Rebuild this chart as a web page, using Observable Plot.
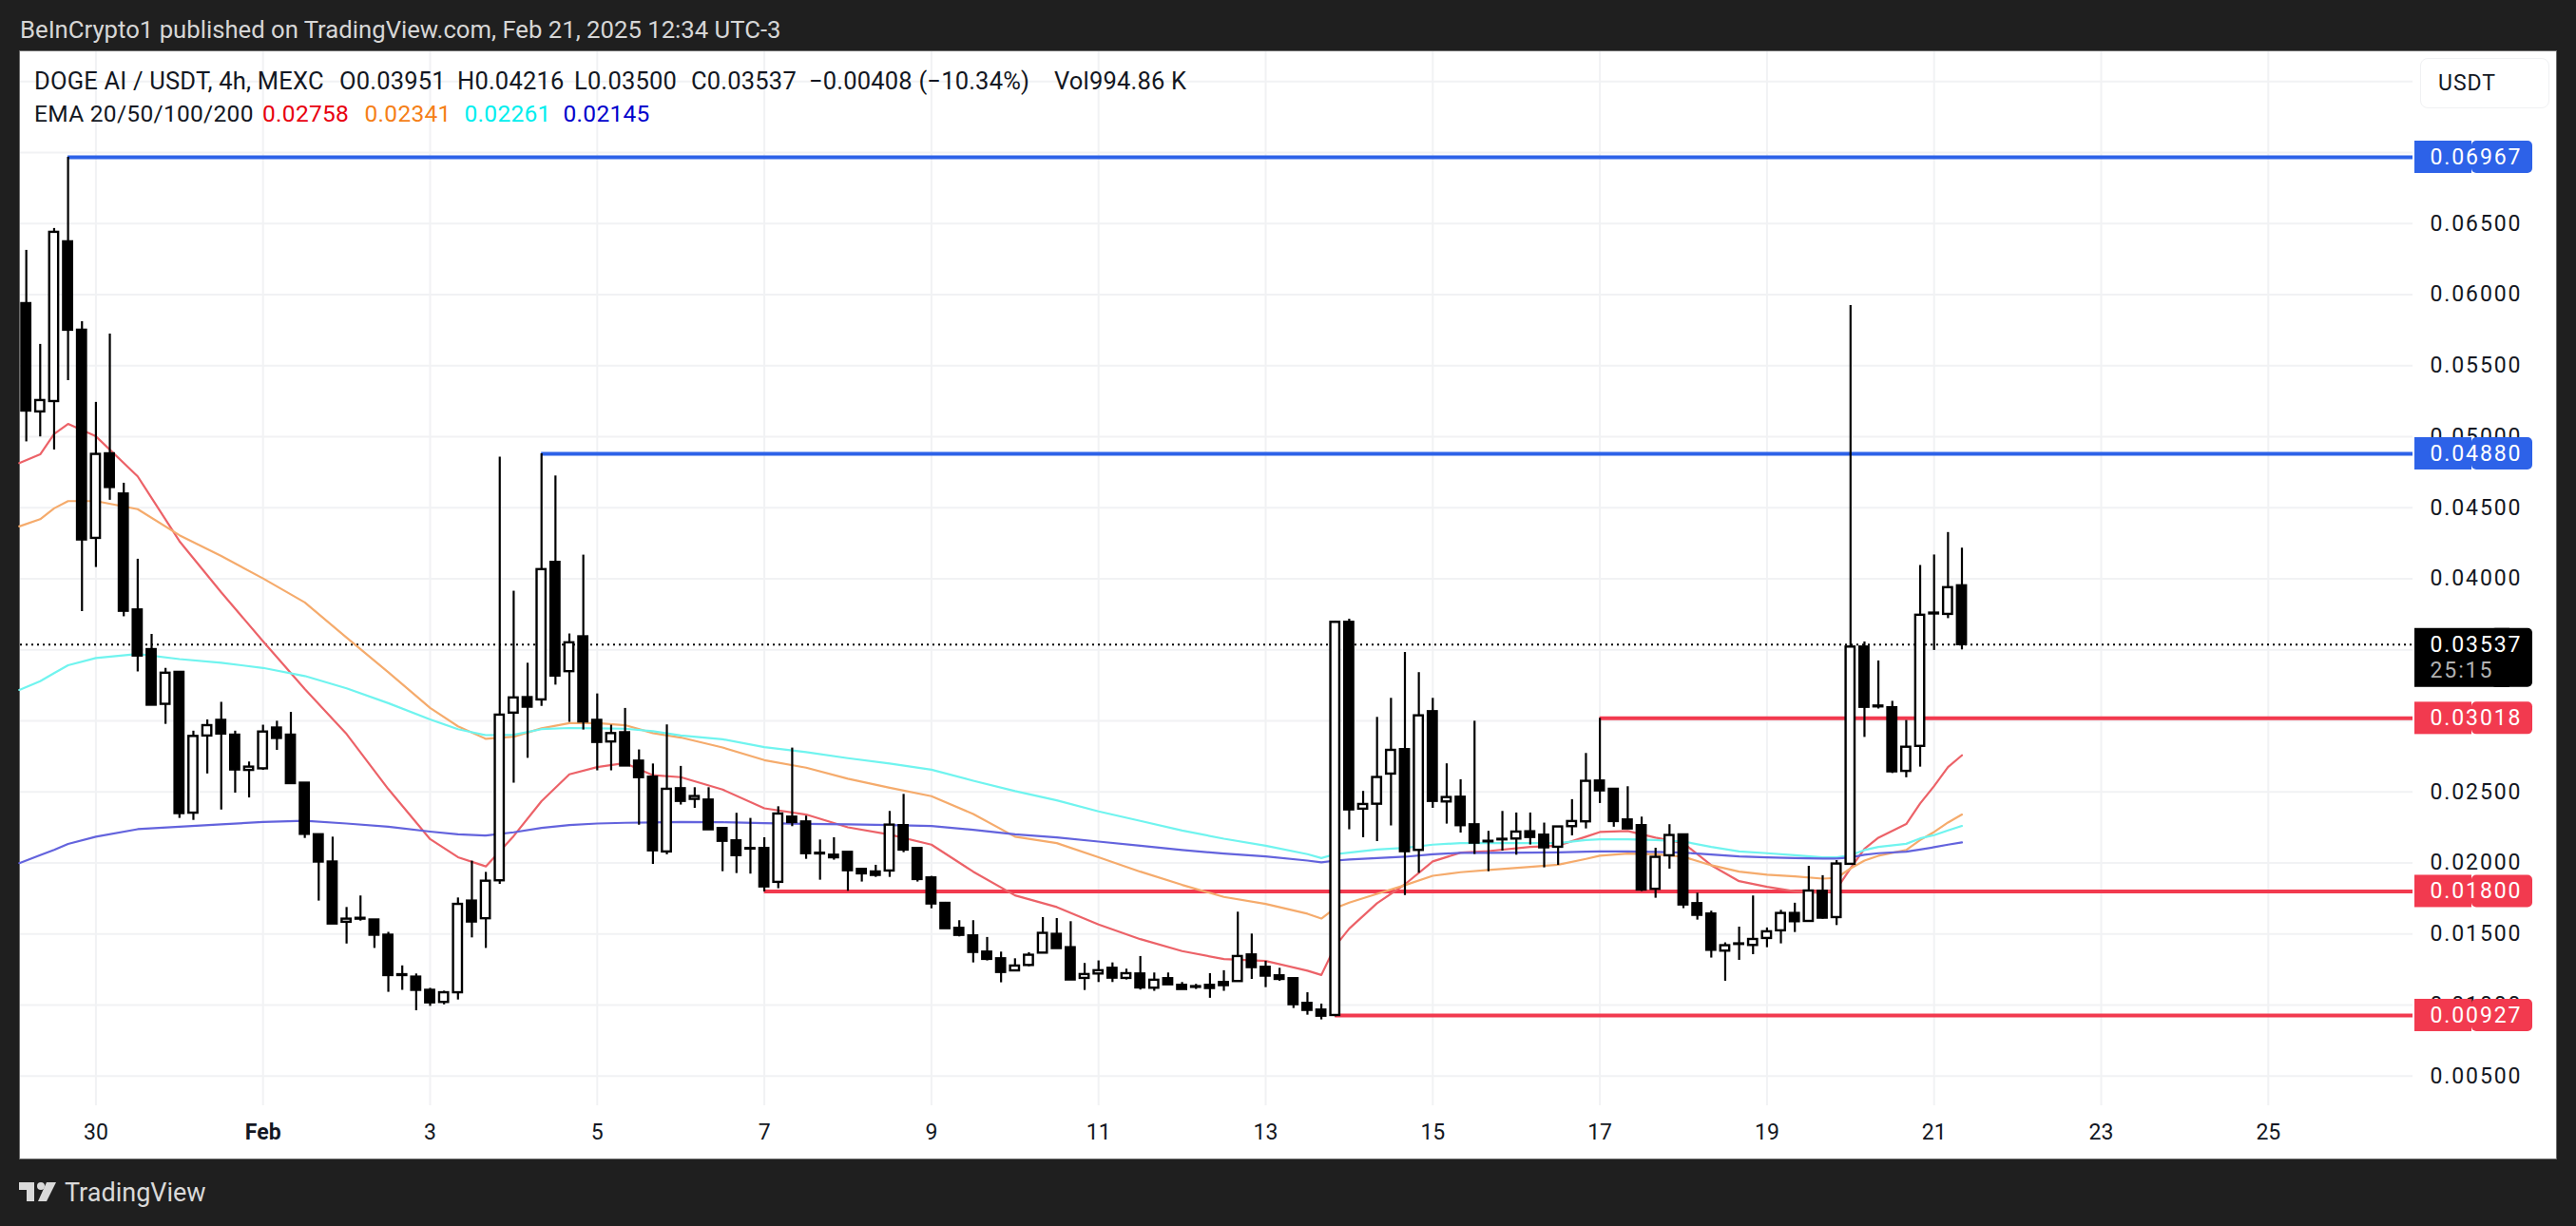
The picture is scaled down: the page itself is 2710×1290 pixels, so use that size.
<!DOCTYPE html>
<html>
<head>
<meta charset="utf-8">
<title>DOGE AI / USDT</title>
<script src="https://cdn.jsdelivr.net/npm/d3@7"></script>
<script src="https://cdn.jsdelivr.net/npm/@observablehq/plot@0.6"></script>
<style>
  html, body { margin: 0; padding: 0; width: 2710px; height: 1290px; overflow: hidden; background: #1f1f1f; font-family: Roboto, sans-serif; }
  #panel { position: absolute; left: 20px; top: 53px; width: 2668px; height: 1165px; background: #fff; border: 1px solid #6b6b6b; }
  #chart { position: absolute; left: 0; top: 0; }
  #chart svg { display: block; background: transparent; overflow: visible; }
  .price text { letter-spacing: 1.9px; }
  .t { position: absolute; white-space: pre; line-height: 1; }
  .leg { font-size: 25.5px; color: #131722; letter-spacing: .2px; }
  .leg2 { font-size: 24.5px; letter-spacing: .3px; }
</style>
</head>
<body>
<div id="panel"></div>
<div id="chart"></div>
<div class="t" style="left:21px;top:19px;font-size:25.7px;color:#d6d6d6;">BeInCrypto1 published on TradingView.com, Feb 21, 2025 12:34 UTC-3</div>
<div id="legend"></div>
<div class="t" style="left:2565px;top:76px;font-size:23px;color:#131722;letter-spacing:1px;">USDT</div>
<div style="position:absolute;left:2546px;top:61px;width:134px;height:51px;border:1px solid #f0f1f3;border-radius:8px;"></div>
<svg style="position:absolute;left:20px;top:1244px" width="40" height="21" viewBox="0 0 40 21">
  <path d="M0 0H16V20H8V8H0Z" fill="#d9d9d9"/><circle cx="23" cy="4" r="4" fill="#d9d9d9"/>
  <path d="M29 0H39L29 20H20Z" fill="#d9d9d9"/>
</svg>
<div class="t" style="left:68px;top:1242px;font-size:27px;color:#d9d9d9;">TradingView</div>
<script>
// ---- Candles, 4h bars; the first bar is five bars before 30 Jan 00:00 ----
const firstBar = Date.UTC(2025, 0, 29, 4);
const barMs = 4 * 3600 * 1000;
const opens = [.05937,.05175,.05248,.06372,.05750,.04285,.04880,.04597,.03781,.03502,.03117,.03342,.02351,.02894,.03004,.02900,.02652,.02663,.02950,.02900,.02562,.02199,.02007,.01583,.01611,.01599,.01492,.01214,.01197,.01104,.01019,.01087,.01732,.01608,.01875,.03055,.03164,.03148,.04116,.03347,.03592,.03004,.02852,.02917,.02717,.02604,
  .02078,.02523,.02448,.02443,.02243,.02156,.02102,.02102,.01864,.02323,.02289,.02069,.02055,.02075,.01955,.01937,.01944,.02263,.02102,.01895,.01716,.01540,.01487,.01373,.01326,.01241,.01279,.01366,.01498,.01404,.01188,.01219,.01259,.01188,.01219,.01119,.01186,.01139,.01130,.01139,.01159,.01166,.01353,.01266,.01206,.01186,.01012,.00965,
  .00927,.03694,.02379,.02414,.02626,.02798,.02089,.03065,.02430,.02463,.02269,.02153,.02167,.02169,.02220,.02196,.02111,.02256,.02290,.02577,.02519,.02303,.02263,.01815,.02051,.02198,.01714,.01641,.01380,.01431,.01420,.01469,.01523,.01645,.01589,.01801,.01616,.01991,.03520,.03105,.03093,.02645,.02821,.03759,.03750,.03951];
const highs = [.06312,.05650,.06466,.06967,.05810,.05242,.05723,.04673,.04138,.03609,.03370,.03342,.02928,.03007,.03131,.02928,.02711,.02970,.02998,.03060,.02562,.02199,.02182,.01687,.01768,.01599,.01512,.01276,.01219,.01118,.01098,.01754,.02013,.01934,.04856,.03913,.03406,.04880,.04724,.03612,.04167,.03190,.02970,.03088,.02796,.02697,
  .02972,.02680,.02530,.02530,.02243,.02350,.02314,.02178,.02396,.02809,.02330,.02162,.02178,.02075,.01955,.01984,.02363,.02483,.02102,.01906,.01723,.01594,.01594,.01476,.01373,.01326,.01369,.01616,.01609,.01587,.01293,.01311,.01297,.01253,.01342,.01226,.01226,.01159,.01146,.01221,.01242,.01654,.01500,.01308,.01259,.01186,.01087,.01007,
  .03701,.03716,.02504,.03025,.03159,.03482,.03340,.03159,.02698,.02586,.02998,.02223,.02363,.02352,.02352,.02281,.02254,.02446,.02771,.03018,.02524,.02537,.02323,.02104,.02270,.02203,.01788,.01661,.01438,.01549,.01768,.01543,.01667,.01717,.01977,.01911,.02017,.05924,.03556,.03422,.03138,.03003,.04094,.04168,.04326,.04216];
const lows = [.04964,.04999,.04907,.05395,.03770,.04080,.04553,.03733,.03345,.03111,.02976,.02314,.02300,.02627,.02373,.02492,.02458,.02652,.02793,.02553,.02173,.01732,.01571,.01430,.01591,.01399,.01090,.01104,.00960,.00991,.01002,.01036,.01473,.01399,.01850,.02562,.02737,.03102,.03252,.02990,.02936,.02649,.02649,.02683,.02266,.01990,
  .02058,.02408,.02385,.02234,.01939,.01926,.01922,.01797,.01819,.02256,.02026,.01879,.02020,.01801,.01866,.01899,.01899,.02073,.01866,.01678,.01538,.01480,.01297,.01311,.01157,.01237,.01270,.01366,.01398,.01177,.01103,.01159,.01159,.01177,.01106,.01097,.01141,.01110,.01110,.01048,.01097,.01166,.01181,.01123,.01168,.00976,.00929,.00896,
  .00918,.02234,.02178,.02151,.02261,.01772,.01928,.02385,.02274,.02211,.02060,.01939,.02084,.02055,.02127,.01966,.01984,.02191,.02240,.02419,.02252,.02240,.01799,.01752,.01957,.01679,.01598,.01331,.01168,.01315,.01355,.01404,.01431,.01511,.01589,.01605,.01560,.01985,.02884,.03084,.02630,.02600,.02675,.03496,.03720,.03500];
const closes = [.05181,.05255,.06439,.05750,.04274,.04876,.04643,.03772,.03457,.03111,.03336,.02348,.02891,.02967,.02908,.02655,.02675,.02922,.02877,.02559,.02202,.02007,.01571,.01605,.01605,.01492,.01208,.01208,.01104,.01016,.01087,.01709,.01585,.01872,.03041,.03162,.03097,.04065,.03316,.03550,.02993,.02849,.02911,.02683,.02601,.02086,
  .02519,.02434,.02468,.02234,.02153,.02052,.02098,.01832,.02345,.02285,.02066,.02064,.02037,.01946,.01924,.01913,.02267,.02091,.01884,.01712,.01538,.01491,.01371,.01322,.01230,.01275,.01351,.01505,.01398,.01177,.01215,.01242,.01190,.01221,.01121,.01175,.01143,.01110,.01125,.01117,.01137,.01342,.01264,.01204,.01181,.01003,.00963,.00922,
  .03694,.02374,.02412,.02602,.02793,.02080,.03036,.02434,.02461,.02263,.02140,.02149,.02163,.02218,.02180,.02107,.02254,.02292,.02575,.02508,.02292,.02240,.01810,.02040,.02194,.01705,.01632,.01386,.01418,.01427,.01462,.01516,.01645,.01587,.01803,.01612,.01993,.03520,.03096,.03099,.02642,.02815,.03744,.03753,.03938,.03537];

// ---- EMA curves, read at these bars (bar number counted from 30 Jan 00:00) ----
const emaBars = [-5.5,-4,-3,-2,0,3,6,9,12,15,18,21,24,26,28,30,32,34,36,38,40,
  42,45,48,51,54,57,60,63,66,69,72,75,78,81,84,87,88,
  89,90,92,94,96,98,100,103,105,107,108,110,112,114,116,118,120,122,124,125,126,127,128,130,131,132,133,134];
const ema20 = [.04814,.04876,.05019,.05090,.05003,.04721,.04265,.03905,.03561,.03224,.02908,.02520,.02168,.02041,.01976,.02190,.02435,.02624,.02675,.02703,.02618,
  .02604,.02517,.02385,.02341,.02251,.02200,.02129,.01939,.01772,.01690,.01567,.01464,.01380,.01324,.01311,.01242,.01212,
  .01416,.01538,.01717,.01850,.02011,.02073,.02084,.02113,.02122,.02185,.02218,.02225,.02178,.02140,.01984,.01872,.01832,.01801,.01788,.01817,.01962,.02100,.02178,.02274,.02419,.02541,.02675,.02758];
const ema50 = [.04369,.04420,.04496,.04547,.04547,.04490,.04307,.04161,.04003,.03834,.03587,.03342,.03091,.02962,.02874,.02889,.02948,.02984,.02984,.02970,.02914,
  .02883,.02813,.02724,.02671,.02593,.02530,.02470,.02345,.02185,.02140,.02040,.01939,.01846,.01761,.01712,.01643,.01609,
  .01683,.01721,.01783,.01844,.01910,.01935,.01951,.01973,.01988,.02029,.02051,.02066,.02062,.02044,.01984,.01939,.01917,.01906,.01890,.01895,.01962,.02017,.02051,.02091,.02162,.02218,.02285,.02341];
const ema100 = [.03218,.03280,.03336,.03392,.03443,.03471,.03435,.03409,.03373,.03316,.03229,.03125,.03010,.02942,.02900,.02903,.02942,.02950,.02948,.02945,.02928,
  .02898,.02871,.02816,.02780,.02738,.02700,.02657,.02579,.02506,.02441,.02363,.02296,.02229,.02171,.02122,.02062,.02035,
  .02062,.02073,.02095,.02107,.02129,.02140,.02140,.02140,.02140,.02162,.02167,.02167,.02162,.02151,.02113,.02082,.02069,.02055,.02040,.02040,.02055,.02091,.02113,.02135,.02173,.02196,.02229,.02261];
const ema200 = [.01999,.02055,.02092,.02134,.02185,.02238,.02255,.02272,.02289,.02297,.02278,.02255,.02221,.02202,.02193,.02216,.02247,.02267,.02278,.02283,.02286,
  .02289,.02287,.02280,.02276,.02272,.02267,.02260,.02234,.02202,.02180,.02151,.02122,.02091,.02066,.02046,.02017,.02004,
  .02017,.02024,.02035,.02044,.02062,.02071,.02071,.02073,.02075,.02080,.02082,.02082,.02078,.02073,.02060,.02046,.02040,.02035,.02031,.02031,.02040,.02058,.02069,.02080,.02095,.02111,.02129,.02145];
const emaColors = ["#ec6268", "#f5ab6c", "#70f4ef", "#6363dd"];

// ---- Horizontal levels, drawn from the bar where they start ----
const levelValues = [.06967, .04880, .03018, .01800, .00927];
const levelStartBars = [-2, 32, 108, 48, 89];
const levelColors = ["#2d62e8", "#2d62e8", "#f23a4f", "#f23a4f", "#f23a4f"];
const lastClose = .03537;
const countdown = "25:15";

// ---- Axis ----
const priceTicks = [.005,.01,.015,.02,.025,.03,.035,.04,.045,.05,.055,.06,.065];
const priceGrid = [...priceTicks, .07, .075];
const dayTicks = ["2025-01-30","2025-02-03","2025-02-05","2025-02-07","2025-02-09","2025-02-11","2025-02-13","2025-02-15","2025-02-17","2025-02-19","2025-02-21","2025-02-23","2025-02-25"].map(d => new Date(d));
const monthTicks = ["2025-02-01"].map(d => new Date(d));

// ---- Legend text ----
const legendRow1 = [["DOGE AI / USDT, 4h, MEXC",36],["O0.03951",357],["H0.04216",481],["L0.03500",604],["C0.03537",727],["−0.00408 (−10.34%)",851],["Vol994.86 K",1109]];
const legendRow2 = [["EMA 20/50/100/200",36,"#131722"],["0.02758",276,"#e8000f"],["0.02341",383.5,"#f57f17"],["0.02261",488.5,"#00eeee"],["0.02145",592.5,"#0000cc"]];

const legend = document.getElementById("legend");
for (const [s, x] of legendRow1) legend.insertAdjacentHTML("beforeend", `<div class="t leg" style="left:${x}px;top:73px">${s}</div>`);
for (const [s, x, c] of legendRow2) legend.insertAdjacentHTML("beforeend", `<div class="t leg2" style="left:${x}px;top:108px;color:${c}">${s}</div>`);

// ---- Build tables ----
const barTime = k => new Date(firstBar + (k + 5) * barMs);
const candles = opens.map((o, i) => ({t: new Date(firstBar + i * barMs), o, h: highs[i], l: lows[i], c: closes[i]}));
const up = candles.filter(d => d.c >= d.o);
const down = candles.filter(d => d.c < d.o);
const emaTable = (vals) => emaBars.map((k, i) => ({t: barTime(k), v: vals[i]}));

// scale geometry
const W = 2710, H = 1290, L = 21, R = 2538, T = 54, B = 1163;
const pxPerDay = 87.9, pxPerUnit = 14950;
const x0 = Date.UTC(2025, 0, 30) - (100.4 - L) / pxPerDay * 864e5;
const x1 = x0 + (R - L) / pxPerDay * 864e5;
const yTop = .065 + (234.8 - T) / pxPerUnit;
const yBot = .065 - (B - 234.8) / pxPerUnit;
const dx = px => new Date(x0 + (px - L) / pxPerDay * 864e5);  // time at a pixel column beyond the frame
const halfBody = 4.7 / pxPerDay * 864e5;
const dy = px => px / pxPerUnit;

const tags = levelValues.map((v, i) => ({v, color: levelColors[i]}));
const tagL = dx(2540), tagM = dx(2600), tagR = dx(2664);

const plot = Plot.plot({
  width: W, height: H,
  marginLeft: L, marginRight: W - R, marginTop: T, marginBottom: H - B,
  style: {background: "transparent", fontFamily: "Roboto, sans-serif", overflow: "visible"},
  x: {type: "utc", domain: [new Date(x0), new Date(x1)], label: null},
  y: {type: "linear", domain: [yBot, yTop], label: null},
  marks: [
    Plot.ruleY(priceGrid, {stroke: "#f1f2f4", strokeWidth: 2}),
    Plot.ruleX([...dayTicks, ...monthTicks], {stroke: "#f1f2f4", strokeWidth: 2}),
    Plot.ruleY([lastClose], {stroke: "#000", strokeWidth: 2, strokeDasharray: "2 4"}),
    Plot.ruleY(levelValues.map((v, i) => i), {
      y: i => levelValues[i], x1: i => barTime(levelStartBars[i]), x2: () => new Date(x1),
      stroke: i => levelColors[i], strokeWidth: 4}),
    Plot.line(emaTable(ema20), {x: "t", y: "v", stroke: emaColors[0], strokeWidth: 2.2}),
    Plot.line(emaTable(ema50), {x: "t", y: "v", stroke: emaColors[1], strokeWidth: 2.2}),
    Plot.line(emaTable(ema100), {x: "t", y: "v", stroke: emaColors[2], strokeWidth: 2.2}),
    Plot.line(emaTable(ema200), {x: "t", y: "v", stroke: emaColors[3], strokeWidth: 2.2}),
    Plot.ruleX(candles, {x: "t", y1: "l", y2: "h", stroke: "#000", strokeWidth: 2.2}),
    Plot.rect(down, {x1: d => new Date(+d.t - halfBody), x2: d => new Date(+d.t + halfBody), y1: "o", y2: "c", fill: "#000", stroke: "#000", strokeWidth: 2.4}),
    Plot.rect(up, {x1: d => new Date(+d.t - halfBody), x2: d => new Date(+d.t + halfBody), y1: "o", y2: "c", fill: "#fff", stroke: "#000", strokeWidth: 2.4}),
    Plot.axisX(dayTicks, {anchor: "bottom", tickSize: 0, tickPadding: 19, fontSize: 23, fill: "#131722", tickFormat: d3.utcFormat("%-d"), label: null}),
    Plot.axisX(monthTicks, {anchor: "bottom", tickSize: 0, tickPadding: 19, fontSize: 23, fontWeight: 700, fill: "#131722", tickFormat: d3.utcFormat("%b"), label: null}),
    Plot.axisY(priceTicks, {anchor: "right", tickSize: 0, tickPadding: 18, fontSize: 23, fill: "#131722", tickFormat: d => d.toFixed(5), label: null, className: "price"}),
    // price tags on the axis
    Plot.rect(tags, {x1: () => tagM, x2: () => tagR, y1: d => d.v - dy(17), y2: d => d.v + dy(17), fill: "color", rx: 5}),
    Plot.rect(tags, {x1: () => tagL, x2: () => tagM, y1: d => d.v - dy(17), y2: d => d.v + dy(17), fill: "color"}),
    Plot.text(tags, {x: () => dx(2556), y: "v", text: d => d.v.toFixed(5), textAnchor: "start", fill: "#fff", fontSize: 23, className: "price"}),
    Plot.rect([lastClose], {x1: () => dx(2620), x2: () => tagR, y1: d => d - dy(45), y2: d => d + dy(17), fill: "#000", rx: 5}),
    Plot.rect([lastClose], {x1: () => tagL, x2: () => dx(2640), y1: d => d - dy(45), y2: d => d + dy(17), fill: "#000"}),
    Plot.text([lastClose], {x: () => dx(2556), y: d => d, text: d => d.toFixed(5), textAnchor: "start", fill: "#fff", fontSize: 23, className: "price"}),
    Plot.text([lastClose], {x: () => dx(2556), y: d => d - dy(27), text: () => countdown, textAnchor: "start", fill: "#b2b2b2", fontSize: 23, className: "price"})
  ]
});
document.getElementById("chart").appendChild(plot);
</script>
</body>
</html>
